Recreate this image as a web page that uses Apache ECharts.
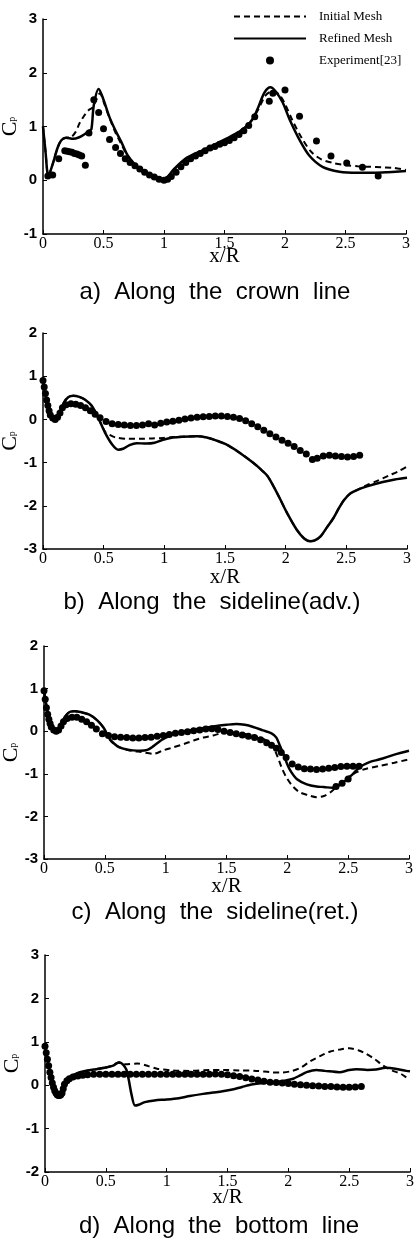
<!DOCTYPE html>
<html><head><meta charset="utf-8">
<script src="https://cdn.jsdelivr.net/npm/echarts@6/dist/echarts.min.js"></script>
<style>html,body{margin:0;padding:0;background:#fff}#c{width:419px;height:1243px}</style>
</head><body><div id="c"></div>
<script>
// ---- Data (x/R, Cp) ----
const xTicks = ['0','0.5','1','1.5','2','2.5','3'];
const titles = ['a)  Along  the  crown  line','b)  Along  the  sideline(adv.)','c)  Along  the  sideline(ret.)','d)  Along  the  bottom  line'];
const yRanges = [[-1,3],[-3,2],[-3,2],[-2,3]];

const aRefined = [[0,1.0],[0.02,0.55],[0.045,0.08],[0.08,0.3],[0.12,0.6],[0.15,0.74],[0.19,0.79],[0.25,0.77],[0.3,0.8],[0.34,0.85],[0.38,0.92],[0.4,0.95],[0.42,1.4],[0.46,1.7],[0.5,1.5],[0.55,1.17],[0.6,0.92],[0.65,0.7],[0.7,0.46],[0.77,0.27],[0.88,0.11],[0.97,0.01],[1.02,0.04],[1.08,0.2],[1.19,0.42],[1.35,0.59],[1.52,0.78],[1.62,0.9],[1.68,1.0],[1.73,1.13],[1.77,1.31],[1.83,1.63],[1.88,1.73],[1.92,1.66],[1.98,1.45],[2.04,1.12],[2.12,0.75],[2.2,0.46],[2.31,0.25],[2.45,0.16],[2.6,0.14],[2.73,0.14],[2.85,0.15],[3.0,0.17]];
const aInitial = [[0,1.0],[0.02,0.55],[0.045,0.08],[0.08,0.3],[0.12,0.6],[0.15,0.74],[0.19,0.79],[0.23,0.8],[0.27,0.9],[0.3,1.05],[0.34,1.2],[0.38,1.31],[0.41,1.35],[0.44,1.5],[0.47,1.62],[0.51,1.4],[0.56,1.1],[0.6,0.88],[0.65,0.66],[0.7,0.45],[0.77,0.27],[0.88,0.11],[0.97,0.01],[1.02,0.04],[1.08,0.19],[1.19,0.4],[1.35,0.57],[1.52,0.76],[1.62,0.89],[1.68,1.0],[1.73,1.13],[1.78,1.32],[1.84,1.58],[1.9,1.66],[1.95,1.6],[2.0,1.42],[2.06,1.12],[2.14,0.78],[2.22,0.52],[2.3,0.39],[2.4,0.32],[2.5,0.28],[2.6,0.26],[2.7,0.25],[2.8,0.24],[2.9,0.23],[3.0,0.19]];
const aExp = [[0.04,0.08],[0.08,0.1],[0.13,0.4],[0.18,0.55],[0.2,0.54],[0.22,0.53],[0.24,0.52],[0.26,0.5],[0.28,0.49],[0.3,0.47],[0.32,0.45],[0.35,0.28],[0.38,0.88],[0.42,1.5],[0.46,1.26],[0.5,0.96],[0.55,0.76],[0.6,0.61],[0.64,0.5],[0.68,0.4],[0.72,0.33],[0.76,0.27],[0.8,0.21],[0.84,0.15],[0.88,0.1],[0.92,0.06],[0.96,0.02],[1.0,0.0],[1.03,0.02],[1.06,0.07],[1.1,0.15],[1.14,0.25],[1.18,0.33],[1.22,0.4],[1.26,0.45],[1.3,0.5],[1.34,0.55],[1.38,0.6],[1.42,0.63],[1.46,0.67],[1.5,0.7],[1.54,0.74],[1.58,0.79],[1.62,0.85],[1.66,0.92],[1.7,1.02],[1.75,1.18],[1.87,1.47],[1.9,1.62],[2.0,1.68],[2.12,1.19],[2.26,0.73],[2.38,0.45],[2.51,0.32],[2.64,0.24],[2.77,0.08]];

const bRefined = [[0,0.9],[0.02,0.6],[0.04,0.3],[0.07,0.05],[0.1,0.0],[0.13,0.1],[0.17,0.38],[0.21,0.52],[0.25,0.55],[0.3,0.52],[0.35,0.45],[0.4,0.32],[0.45,0.07],[0.51,-0.3],[0.57,-0.58],[0.62,-0.7],[0.66,-0.68],[0.71,-0.6],[0.77,-0.55],[0.85,-0.56],[0.92,-0.54],[0.99,-0.47],[1.07,-0.42],[1.15,-0.4],[1.27,-0.39],[1.35,-0.42],[1.42,-0.48],[1.51,-0.58],[1.62,-0.77],[1.73,-1.0],[1.8,-1.17],[1.85,-1.31],[1.9,-1.55],[1.95,-1.82],[2.01,-2.16],[2.09,-2.55],[2.15,-2.75],[2.2,-2.82],[2.24,-2.8],[2.29,-2.7],[2.34,-2.5],[2.39,-2.3],[2.44,-2.05],[2.48,-1.87],[2.53,-1.72],[2.6,-1.62],[2.67,-1.55],[2.8,-1.45],[2.9,-1.39],[3.0,-1.35]];
const bInitial = [[0,0.9],[0.02,0.6],[0.04,0.3],[0.07,0.05],[0.1,0.0],[0.13,0.1],[0.17,0.38],[0.21,0.52],[0.25,0.55],[0.3,0.52],[0.35,0.45],[0.4,0.32],[0.45,0.07],[0.51,-0.28],[0.55,-0.36],[0.6,-0.42],[0.7,-0.45],[0.8,-0.45],[0.9,-0.44],[0.99,-0.43],[1.07,-0.41],[1.15,-0.4],[1.27,-0.39],[1.35,-0.42],[1.42,-0.48],[1.51,-0.58],[1.62,-0.77],[1.73,-1.0],[1.8,-1.17],[1.85,-1.31],[1.9,-1.55],[1.95,-1.82],[2.01,-2.16],[2.09,-2.55],[2.15,-2.75],[2.2,-2.82],[2.24,-2.8],[2.29,-2.7],[2.34,-2.5],[2.39,-2.3],[2.44,-2.05],[2.48,-1.87],[2.53,-1.72],[2.6,-1.62],[2.67,-1.52],[2.75,-1.43],[2.85,-1.3],[2.93,-1.2],[3.0,-1.09]];
const bExp = [[0,0.9],[0.01,0.75],[0.02,0.6],[0.03,0.45],[0.04,0.32],[0.05,0.2],[0.06,0.1],[0.08,0.03],[0.1,0.0],[0.12,0.05],[0.14,0.15],[0.16,0.27],[0.19,0.34],[0.23,0.36],[0.27,0.35],[0.31,0.32],[0.35,0.27],[0.39,0.2],[0.43,0.12],[0.47,0.04],[0.52,-0.05],[0.57,-0.1],[0.62,-0.12],[0.67,-0.13],[0.72,-0.14],[0.77,-0.14],[0.82,-0.13],[0.87,-0.1],[0.92,-0.13],[0.97,-0.09],[1.02,-0.06],[1.07,-0.04],[1.12,-0.02],[1.17,0.01],[1.22,0.03],[1.27,0.05],[1.32,0.06],[1.37,0.07],[1.42,0.08],[1.47,0.08],[1.52,0.07],[1.57,0.05],[1.62,0.02],[1.67,-0.03],[1.72,-0.1],[1.77,-0.17],[1.82,-0.25],[1.87,-0.33],[1.92,-0.41],[1.97,-0.48],[2.02,-0.55],[2.07,-0.63],[2.12,-0.72],[2.17,-0.8],[2.22,-0.93],[2.26,-0.9],[2.31,-0.85],[2.36,-0.83],[2.41,-0.85],[2.46,-0.86],[2.51,-0.87],[2.56,-0.86],[2.61,-0.83]];

const cRefined = [[0,0.95],[0.02,0.6],[0.04,0.3],[0.07,0.05],[0.1,0.0],[0.13,0.1],[0.17,0.33],[0.21,0.45],[0.25,0.47],[0.3,0.45],[0.38,0.38],[0.44,0.25],[0.49,0.08],[0.54,-0.18],[0.58,-0.3],[0.62,-0.38],[0.68,-0.43],[0.73,-0.45],[0.79,-0.46],[0.85,-0.44],[0.9,-0.35],[0.96,-0.22],[1.01,-0.14],[1.06,-0.07],[1.12,-0.02],[1.26,0.05],[1.39,0.11],[1.5,0.15],[1.58,0.17],[1.65,0.15],[1.72,0.1],[1.8,0.02],[1.87,-0.05],[1.91,-0.15],[1.94,-0.35],[1.97,-0.55],[2.0,-0.78],[2.03,-0.95],[2.08,-1.13],[2.16,-1.25],[2.24,-1.3],[2.3,-1.31],[2.37,-1.33],[2.42,-1.28],[2.46,-1.2],[2.5,-1.1],[2.54,-1.0],[2.58,-0.88],[2.62,-0.8],[2.68,-0.72],[2.76,-0.66],[2.88,-0.55],[3.0,-0.46]];
const cInitial = [[0,0.95],[0.02,0.6],[0.04,0.3],[0.07,0.05],[0.1,0.0],[0.13,0.1],[0.17,0.33],[0.21,0.45],[0.25,0.47],[0.3,0.45],[0.38,0.38],[0.44,0.25],[0.49,0.08],[0.54,-0.2],[0.6,-0.35],[0.7,-0.45],[0.8,-0.49],[0.9,-0.53],[0.98,-0.45],[1.06,-0.38],[1.15,-0.3],[1.23,-0.22],[1.31,-0.15],[1.39,-0.1],[1.45,-0.05],[1.5,-0.02],[1.58,-0.04],[1.66,-0.07],[1.75,-0.13],[1.83,-0.22],[1.88,-0.35],[1.92,-0.6],[1.96,-0.9],[2.0,-1.12],[2.05,-1.31],[2.1,-1.43],[2.17,-1.5],[2.24,-1.55],[2.3,-1.52],[2.36,-1.42],[2.43,-1.24],[2.5,-1.08],[2.57,-0.96],[2.65,-0.88],[2.75,-0.82],[2.88,-0.74],[3.0,-0.66]];
const cExp = [[0,0.95],[0.01,0.75],[0.02,0.55],[0.03,0.4],[0.04,0.28],[0.05,0.18],[0.06,0.1],[0.08,0.03],[0.1,0.0],[0.12,0.03],[0.14,0.12],[0.16,0.22],[0.19,0.3],[0.23,0.33],[0.27,0.33],[0.31,0.28],[0.35,0.22],[0.39,0.14],[0.43,0.05],[0.48,-0.06],[0.53,-0.1],[0.58,-0.13],[0.63,-0.14],[0.68,-0.15],[0.73,-0.16],[0.78,-0.16],[0.83,-0.15],[0.88,-0.14],[0.93,-0.12],[0.98,-0.1],[1.03,-0.08],[1.08,-0.05],[1.13,-0.03],[1.18,-0.01],[1.23,0.01],[1.28,0.03],[1.33,0.05],[1.38,0.06],[1.43,0.04],[1.48,0.0],[1.53,-0.03],[1.58,-0.06],[1.63,-0.09],[1.68,-0.12],[1.73,-0.15],[1.78,-0.2],[1.83,-0.27],[1.87,-0.33],[1.91,-0.4],[1.95,-0.5],[1.99,-0.62],[2.04,-0.77],[2.09,-0.84],[2.14,-0.88],[2.19,-0.89],[2.24,-0.9],[2.29,-0.89],[2.34,-0.87],[2.39,-0.85],[2.44,-0.83],[2.49,-0.82],[2.54,-0.82],[2.59,-0.82],[2.4,-1.3],[2.45,-1.22],[2.5,-1.12]];

const dRefined = [[0,0.9],[0.02,0.6],[0.04,0.3],[0.06,0.05],[0.08,-0.12],[0.1,-0.2],[0.12,-0.22],[0.14,-0.15],[0.16,0.0],[0.18,0.12],[0.22,0.22],[0.27,0.28],[0.32,0.32],[0.4,0.36],[0.5,0.41],[0.56,0.45],[0.61,0.53],[0.64,0.48],[0.67,0.35],[0.69,0.1],[0.71,-0.2],[0.74,-0.47],[0.77,-0.45],[0.82,-0.39],[0.9,-0.35],[1.0,-0.33],[1.1,-0.3],[1.19,-0.25],[1.3,-0.2],[1.38,-0.17],[1.46,-0.14],[1.54,-0.1],[1.62,-0.04],[1.71,0.02],[1.8,0.05],[1.87,0.07],[1.96,0.1],[2.04,0.15],[2.1,0.23],[2.15,0.3],[2.23,0.35],[2.3,0.33],[2.42,0.3],[2.5,0.35],[2.56,0.37],[2.65,0.35],[2.72,0.36],[2.8,0.4],[2.88,0.38],[2.97,0.33],[3.0,0.32]];
const dInitial = [[0,0.9],[0.02,0.6],[0.04,0.3],[0.06,0.05],[0.08,-0.12],[0.1,-0.2],[0.12,-0.22],[0.14,-0.15],[0.16,0.0],[0.18,0.12],[0.22,0.22],[0.27,0.28],[0.32,0.32],[0.4,0.36],[0.5,0.41],[0.55,0.45],[0.6,0.52],[0.66,0.48],[0.76,0.5],[0.85,0.44],[0.92,0.38],[1.05,0.34],[1.19,0.33],[1.35,0.35],[1.46,0.35],[1.6,0.34],[1.74,0.33],[1.85,0.3],[1.93,0.29],[2.02,0.32],[2.1,0.4],[2.18,0.55],[2.26,0.67],[2.34,0.77],[2.42,0.82],[2.5,0.85],[2.58,0.8],[2.64,0.72],[2.71,0.6],[2.78,0.45],[2.86,0.33],[2.92,0.27],[2.97,0.18],[3.0,0.15]];
const dExp = [[0,0.9],[0.01,0.75],[0.02,0.6],[0.03,0.45],[0.04,0.3],[0.05,0.18],[0.06,0.05],[0.07,-0.05],[0.08,-0.13],[0.09,-0.18],[0.1,-0.22],[0.11,-0.24],[0.12,-0.24],[0.13,-0.22],[0.14,-0.18],[0.15,-0.08],[0.16,0.02],[0.18,0.1],[0.2,0.15],[0.23,0.19],[0.27,0.21],[0.31,0.23],[0.35,0.24],[0.4,0.25],[0.45,0.25],[0.5,0.25],[0.55,0.25],[0.6,0.25],[0.65,0.25],[0.7,0.25],[0.75,0.25],[0.8,0.25],[0.85,0.25],[0.9,0.25],[0.95,0.25],[1.0,0.25],[1.05,0.25],[1.1,0.25],[1.15,0.25],[1.2,0.25],[1.25,0.25],[1.3,0.25],[1.35,0.25],[1.4,0.26],[1.45,0.25],[1.5,0.24],[1.55,0.22],[1.6,0.2],[1.65,0.17],[1.7,0.14],[1.75,0.12],[1.8,0.09],[1.85,0.07],[1.9,0.06],[1.95,0.05],[2.0,0.04],[2.05,0.02],[2.1,0.01],[2.15,0.0],[2.2,-0.01],[2.25,-0.02],[2.3,-0.03],[2.35,-0.03],[2.4,-0.04],[2.45,-0.05],[2.5,-0.05],[2.55,-0.04],[2.6,-0.03]];

const panels = [
  {initial:aInitial, refined:aRefined, exp:aExp},
  {initial:bInitial, refined:bRefined, exp:bExp},
  {initial:cInitial, refined:cRefined, exp:cExp},
  {initial:dInitial, refined:dRefined, exp:dExp}
];

// ---- Layout ----
const grids = [
  {left:43, top:19, width:363, height:215, outerBoundsMode:'none', containLabel:false},
  {left:43, top:333, width:364, height:216, outerBoundsMode:'none', containLabel:false},
  {left:44, top:646, width:365, height:213, outerBoundsMode:'none', containLabel:false},
  {left:45, top:955, width:365, height:217, outerBoundsMode:'none', containLabel:false}
];
const xNameGaps = [12, 18, 17, 15];
const titleY = [292, 602, 912, 1226];
const titleX = [215, 212, 215, 219];

const serif = '"Liberation Serif","Times New Roman",serif';
const sans = '"Liberation Sans",Arial,sans-serif';

const xAxes = grids.map((g,i)=>({
  gridIndex:i, type:'value', min:0, max:3, interval:0.5,
  name:'x/R', nameLocation:'middle', nameGap:xNameGaps[i], nameMoveOverlap:false,
  nameTextStyle:{fontFamily:serif, fontSize:21, color:'#000'},
  axisLine:{show:true, onZero:false, lineStyle:{color:'#000', width:1.5}},
  axisTick:{show:true, inside:true, length:4, lineStyle:{color:'#000', width:1}},
  axisLabel:{fontFamily:serif, fontSize:16, color:'#000', margin:2,
    formatter:(v)=>xTicks[Math.round(v*2)]},
  splitLine:{show:false}
}));
const yAxes = grids.map((g,i)=>({
  gridIndex:i, type:'value', min:yRanges[i][0], max:yRanges[i][1], interval:1,
  name:'{c|C}{p|p}', nameLocation:'middle', nameGap:17, nameRotate:90, nameMoveOverlap:false,
  nameTextStyle:{rich:{
    c:{fontFamily:serif, fontSize:22, color:'#000', padding:[0,0,5,0]},
    p:{fontFamily:serif, fontSize:10, color:'#000'}
  }},
  axisLine:{show:true, onZero:false, lineStyle:{color:'#000', width:1.5}},
  axisTick:{show:true, inside:true, length:4, lineStyle:{color:'#000', width:1}},
  axisLabel:{fontFamily:sans, fontWeight:'bold', fontSize:15, color:'#000', margin:6},
  splitLine:{show:false}
}));

const series = [];
panels.forEach((p,i)=>{
  series.push({name:'Initial Mesh', type:'line', xAxisIndex:i, yAxisIndex:i, data:p.initial,
    symbol:'none', showSymbol:false, smooth:0.3, z:3,
    lineStyle:{color:'#000', width:2, type:[6,4]}, itemStyle:{color:'#000'}});
  series.push({name:'Refined Mesh', type:'line', xAxisIndex:i, yAxisIndex:i, data:p.refined,
    symbol:'none', showSymbol:false, smooth:0.3, z:2,
    lineStyle:{color:'#000', width:2.5, type:'solid'}, itemStyle:{color:'#000'}});
  series.push({name:'Experiment[23]', type:'scatter', xAxisIndex:i, yAxisIndex:i, data:p.exp,
    symbol:'circle', symbolSize:7, z:4, itemStyle:{color:'#000', opacity:1}});
});

const graphic = titles.map((t,i)=>({
  type:'text', x:titleX[i], y:titleY[i],
  style:{text:t, font:'24px ' + sans, fill:'#000',
    textAlign:'center', textVerticalAlign:'middle', align:'center', verticalAlign:'middle'}
}));

const chart = echarts.init(document.getElementById('c'), null, {renderer:'canvas'});
chart.setOption({
  animation:false,
  backgroundColor:'#fff',
  grid:grids,
  xAxis:xAxes,
  yAxis:yAxes,
  legend:{orient:'vertical', left:228, top:5, itemWidth:72, itemHeight:8, itemGap:9,
    data:[
      {name:'Initial Mesh', itemStyle:{opacity:0}},
      {name:'Refined Mesh', itemStyle:{opacity:0}},
      {name:'Experiment[23]', itemStyle:{opacity:1}}
    ],
    textStyle:{fontFamily:serif, fontSize:13, color:'#000', padding:[0,0,0,8]}},
  series:series,
  graphic:graphic
});
</script></body></html>
